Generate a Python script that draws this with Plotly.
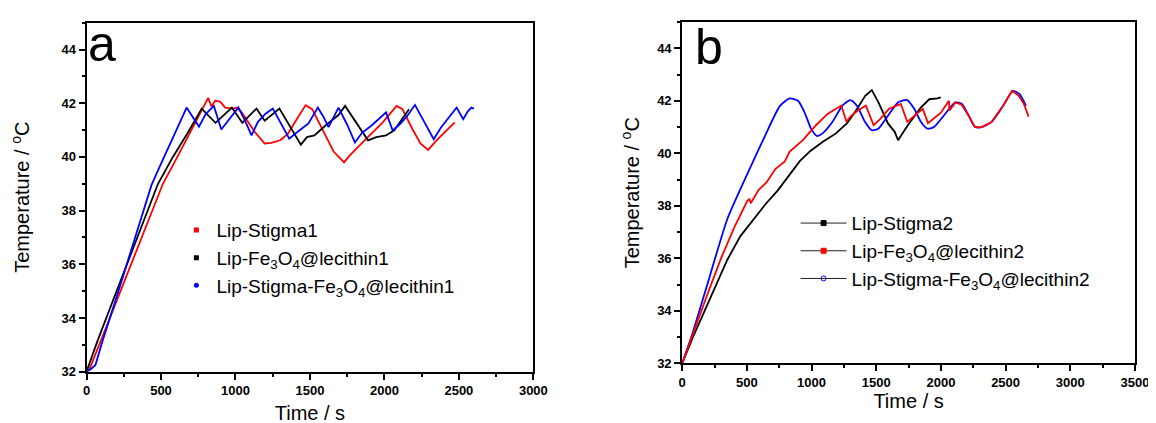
import plotly.graph_objects as go

# ---------------- Panel a data ----------------
red1_x = [0, 20, 94, 200, 300, 400, 513, 600, 700, 817, 839, 865, 898, 931, 987, 1009, 1042, 1097, 1130,
          1196, 1240, 1300, 1350, 1400, 1440, 1471, 1515, 1571, 1659, 1729, 1769, 1879, 1989, 2082, 2121,
          2187, 2242, 2293, 2341, 2407, 2473]
red1_y = [32.0, 32.1, 33.12, 34.6, 36.0, 37.4, 39.0, 39.9, 40.95, 42.2, 41.88, 42.1, 42.05, 41.84, 41.8, 41.84,
          41.66, 41.23, 40.93, 40.5, 40.52, 40.62, 40.85, 41.3, 41.65, 41.93, 41.78, 41.17, 40.2, 39.8, 40.07,
          40.68, 41.29, 41.9, 41.78, 41.05, 40.5, 40.26, 40.56, 40.93, 41.29]

black1_x = [0, 72, 150, 250, 350, 480, 580, 680, 773, 866, 976, 1046, 1141, 1196, 1295, 1439, 1480, 1530,
            1610, 1690, 1736, 1890, 1945, 2011, 2066, 2165]
black1_y = [32.0, 33.12, 34.25, 35.7, 37.15, 39.0, 40.0, 40.9, 41.8, 41.27, 41.84, 41.27, 41.8, 41.35, 41.8,
            40.46, 40.74, 40.8, 41.2, 41.55, 41.9, 40.62, 40.74, 40.8, 40.99, 41.78]

blue1_x = [0, 30, 60, 106, 200, 300, 400, 436, 480, 557, 620, 672, 700, 730, 755, 800, 855, 905, 960, 1020,
           1060, 1108, 1150, 1200, 1251, 1300, 1361, 1420, 1490, 1553, 1590, 1625, 1692, 1750, 1802, 1850,
           1920, 2011, 2055, 2100, 2150, 2205, 2260, 2331, 2380, 2440, 2485, 2529, 2560, 2584, 2601]
blue1_y = [32.0, 32.1, 32.25, 33.12, 34.75, 36.5, 38.3, 38.95, 39.5, 40.44, 41.2, 41.84, 41.6, 41.35, 41.13,
           41.6, 41.9, 41.02, 41.4, 41.84, 41.4, 40.8, 41.3, 41.6, 41.8, 41.3, 40.68, 40.95, 41.25, 41.84,
           41.5, 41.11, 41.84, 41.2, 40.54, 40.9, 41.2, 41.66, 40.99, 41.2, 41.5, 41.94, 41.4, 40.66, 41.1,
           41.5, 41.84, 41.41, 41.7, 41.84, 41.8]

# ---------------- Panel b data ----------------
black2_x = [0, 83, 182, 250, 349, 450, 573, 650, 741, 820, 909, 993, 1090, 1186, 1275, 1340, 1415, 1466,
            1517, 1592, 1643, 1669, 1744, 1846, 1910, 1973, 1999]
black2_y = [32.0, 33.0, 34.1, 34.85, 35.95, 36.85, 37.6, 38.1, 38.6, 39.1, 39.7, 40.1, 40.45, 40.75, 41.15,
            41.6, 42.19, 42.41, 41.94, 41.13, 40.82, 40.5, 41.07, 41.75, 42.06, 42.09, 42.13]

red2_x = [0, 83, 200, 300, 400, 503, 520, 530, 590, 653, 720, 793, 831, 933, 1034, 1123, 1230, 1270, 1300,
          1350, 1420, 1480, 1530, 1600, 1690, 1740, 1800, 1860, 1900, 1950, 2000, 2062, 2066, 2112, 2160,
          2214, 2264, 2315, 2391, 2481, 2550, 2600, 2640, 2678]
red2_y = [32.0, 33.15, 34.7, 36.0, 37.15, 38.19, 38.25, 38.1, 38.6, 38.9, 39.4, 39.69, 40.07, 40.5, 41.07,
          41.5, 41.82, 41.2, 41.4, 41.6, 41.82, 41.07, 41.3, 41.7, 41.88, 41.2, 41.45, 41.7, 41.15, 41.35,
          41.55, 42.0, 41.63, 41.94, 41.85, 41.44, 41.0, 41.0, 41.19, 41.81, 42.38, 42.2, 41.9, 41.4]

blue2_x = [0, 83, 200, 349, 489, 629, 755, 831, 895, 945, 996, 1042, 1085, 1161, 1237, 1301, 1351, 1414,
           1465, 1516, 1592, 1668, 1739, 1795, 1846, 1896, 1947, 2023, 2112, 2163, 2214, 2264, 2315, 2391,
           2481, 2557, 2608, 2658]
blue2_y = [32.0, 33.2, 35.1, 37.5, 39.06, 40.55, 41.8, 42.09, 42.0, 41.57, 40.94, 40.66, 40.76, 41.19, 41.81,
           42.03, 41.81, 41.19, 40.88, 40.94, 41.44, 41.94, 42.03, 41.69, 41.19, 40.94, 41.0, 41.44, 41.94,
           41.88, 41.44, 41.0, 41.0, 41.19, 41.81, 42.38, 42.25, 41.81]

names_a = ["Lip-Stigma1", "Lip-Fe<sub>3</sub>O<sub>4</sub>@lecithin1",
           "Lip-Stigma-Fe<sub>3</sub>O<sub>4</sub>@lecithin1"]
names_b = ["Lip-Stigma2", "Lip-Fe<sub>3</sub>O<sub>4</sub>@lecithin2",
           "Lip-Stigma-Fe<sub>3</sub>O<sub>4</sub>@lecithin2"]

# tick labels
xticks_a = [0, 500, 1000, 1500, 2000, 2500, 3000]
xticks_b = [0, 500, 1000, 1500, 2000, 2500, 3000, 3500]
yticks = [32, 34, 36, 38, 40, 42, 44]

RED, BLACK, BLUE = "#ff0000", "#000000", "#0000ff"
FONT = "Liberation Sans, Arial, sans-serif"
W, H = 1156, 423

fig = go.Figure()

# panel a curves
fig.add_trace(go.Scatter(x=red1_x, y=red1_y, mode="lines", line=dict(color=RED, width=1.8),
                         xaxis="x", yaxis="y", showlegend=False))
fig.add_trace(go.Scatter(x=black1_x, y=black1_y, mode="lines", line=dict(color=BLACK, width=1.8),
                         xaxis="x", yaxis="y", showlegend=False))
fig.add_trace(go.Scatter(x=blue1_x, y=blue1_y, mode="lines", line=dict(color=BLUE, width=1.8),
                         xaxis="x", yaxis="y", showlegend=False))
# panel b curves
fig.add_trace(go.Scatter(x=black2_x, y=black2_y, mode="lines", line=dict(color=BLACK, width=1.8),
                         xaxis="x2", yaxis="y2", showlegend=False))
fig.add_trace(go.Scatter(x=blue2_x, y=blue2_y, mode="lines",
                         line=dict(color=BLUE, width=1.8, shape="spline", smoothing=0.6),
                         xaxis="x2", yaxis="y2", showlegend=False))
fig.add_trace(go.Scatter(x=red2_x, y=red2_y, mode="lines", line=dict(color=RED, width=1.8),
                         xaxis="x2", yaxis="y2", showlegend=False))

# legend entries (panel a: markers only)
for nm, col, sym in zip(names_a, [RED, BLACK, BLUE], ["square", "square", "circle"]):
    fig.add_trace(go.Scatter(x=[None], y=[None], mode="markers", name=nm,
                             marker=dict(color=col, size=5, symbol=sym),
                             xaxis="x", yaxis="y", legend="legend"))
# legend entries (panel b: dark line with coloured marker)
for nm, col, sym in zip(names_b, [BLACK, RED, BLUE], ["square", "square", "circle-open"]):
    fig.add_trace(go.Scatter(x=[None], y=[None], mode="lines+markers", name=nm,
                             line=dict(color="#222222", width=1),
                             marker=dict(color=col, size=5, symbol=sym, line=dict(color=col, width=1)),
                             xaxis="x2", yaxis="y2", legend="legend2"))

tickfont = dict(family=FONT, size=13, color="black")
titlefont = dict(family=FONT, size=20, color="black")
base = dict(showline=True, linecolor="black", linewidth=2, mirror=True, ticks="outside",
            ticklen=6, tickwidth=2, tickcolor="black", tickfont=tickfont, showgrid=False,
            zeroline=False)
minor_x = dict(ticks="outside", ticklen=3, tickwidth=1.5, tickcolor="black", dtick=250, tick0=0)
minor_y = dict(ticks="outside", ticklen=3, tickwidth=1.5, tickcolor="black", dtick=1, tick0=32)

def bold(vals):
    return ["<b>%d</b>" % v for v in vals]

fig.update_layout(
    width=W, height=H, margin=dict(l=0, r=0, t=0, b=0),
    paper_bgcolor="white", plot_bgcolor="white",
    font=dict(family=FONT, color="black"),
    xaxis=dict(domain=[75.7 / W, 529.6 / W], anchor="y", range=[0, 3000],
               tickvals=xticks_a, ticktext=bold(xticks_a), minor=minor_x,
               title=dict(text="Time / s", font=titlefont, standoff=9), **base),
    yaxis=dict(domain=[1 - 370.7 / H, 1 - 15 / H], anchor="x", range=[32, 45],
               tickvals=yticks, ticktext=bold(yticks), minor=minor_y,
               title=dict(text="Temperature / <sup>o</sup>C", font=titlefont, standoff=26), **base),
    xaxis2=dict(domain=[680.8 / W, 1140.7 / W], anchor="y2", range=[0, 3500],
                tickvals=xticks_b, ticktext=bold(xticks_b), minor=minor_x,
                title=dict(text="Time / s", font=titlefont, standoff=3), **base),
    yaxis2=dict(domain=[1 - 362.3 / H, 1 - 14.3 / H], anchor="x2", range=[32, 45],
                tickvals=yticks, ticktext=bold(yticks), minor=minor_y,
                title=dict(text="Temperature / <sup>o</sup>C", font=titlefont, standoff=12), **base),
    legend=dict(x=167 / W, y=1 - 207 / H, xanchor="left", yanchor="top", bgcolor="rgba(0,0,0,0)",
                font=dict(family=FONT, size=19, color="black"), borderwidth=0),
    legend2=dict(x=796 / W, y=1 - 200 / H, xanchor="left", yanchor="top", bgcolor="rgba(0,0,0,0)",
                 font=dict(family=FONT, size=19, color="black"), borderwidth=0, itemwidth=46),
    annotations=[
        dict(text="a", x=91 / W, y=1 - 37 / H, xref="paper", yref="paper", showarrow=False,
             xanchor="center", yanchor="middle", font=dict(family=FONT, size=50, color="black")),
        dict(text="b", x=708.5 / W, y=1 - 40 / H, xref="paper", yref="paper", showarrow=False,
             xanchor="center", yanchor="middle", font=dict(family=FONT, size=50, color="black")),
    ],
)

fig.write_html("out.html")
